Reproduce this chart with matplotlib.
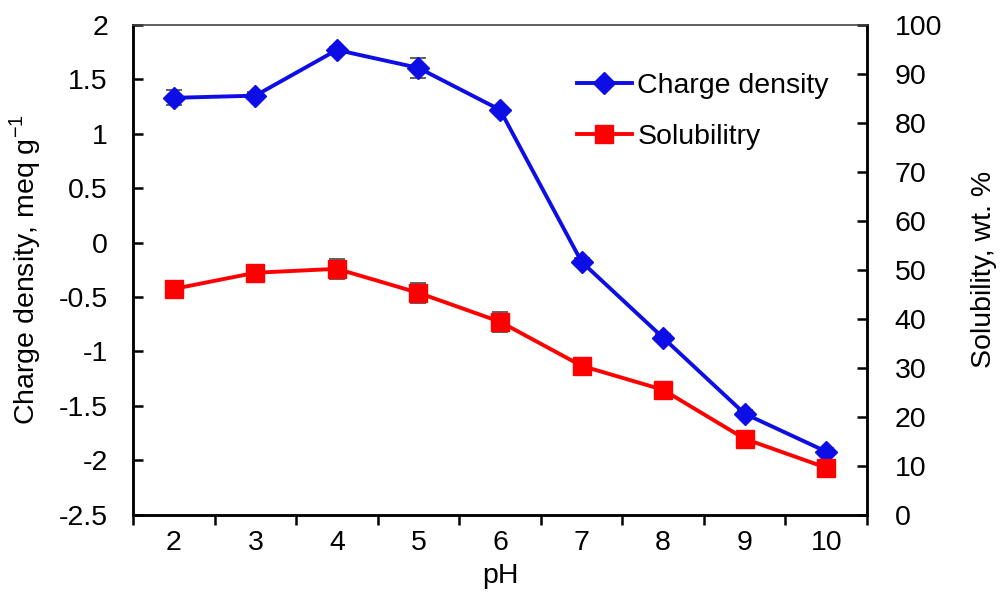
import matplotlib
matplotlib.use("Agg")
import matplotlib.pyplot as plt
import numpy as np

plt.rcParams['font.family'] = ['Liberation Sans', 'DejaVu Sans']
plt.rcParams['mathtext.fontset'] = 'custom'
plt.rcParams['mathtext.rm'] = 'Liberation Sans'

ph = [2, 3, 4, 5, 6, 7, 8, 9, 10]
charge = [1.33, 1.35, 1.77, 1.605, 1.22, -0.176, -0.874, -1.572, -1.92]
charge_err = [0.07, 0.03, 0.03, 0.09, 0.03, 0.03, 0.03, 0.03, 0.03]
solub = [46.1, 49.4, 50.2, 45.3, 39.4, 30.4, 25.5, 15.5, 9.6]
solub_err = [1.5, 1.5, 2.0, 2.0, 2.0, 1.3, 1.3, 1.3, 1.1]

fig = plt.figure(figsize=(10, 5.93), dpi=100)
ax = fig.add_axes([0.133, 0.132, 0.734, 0.826])
ax2 = ax.twinx()

x = np.arange(len(ph))
fs = 20.5

l1 = ax.errorbar(x, charge, yerr=charge_err, color='#0d0de6', lw=2.8, marker='D',
                 markersize=11.5, ecolor='#555555', elinewidth=1.3, capsize=6,
                 capthick=1.3, label='Charge density', zorder=3)
l2 = ax2.errorbar(x, solub, yerr=solub_err, color='#ff0000', lw=2.8, marker='s',
                  markersize=12.5, ecolor='#555555', elinewidth=1.3, capsize=6,
                  capthick=1.3, label='Solubilitry', zorder=3)

ax.set_xlim(-0.5, len(ph) - 0.5)
ax.set_ylim(-2.5, 2)
ax2.set_ylim(0, 100)

ax.set_yticks(np.arange(-2.5, 2.01, 0.5))
ax.set_yticklabels(['-2.5', '-2', '-1.5', '-1', '-0.5', '0', '0.5', '1', '1.5', '2'])
ax2.set_yticks(np.arange(0, 101, 10))

ax.set_xticks(x)
ax.set_xticklabels([str(p) for p in ph])
ax.set_xticks(np.arange(-0.5, len(ph) + 0.5, 1), minor=True)
ax.tick_params(axis='x', which='major', length=0, labelsize=fs, pad=11)
ax.tick_params(axis='x', which='minor', length=7, width=1.8, direction='out')
ax.tick_params(axis='y', which='major', length=7, width=1.8, direction='in', labelsize=fs, pad=18)
ax2.tick_params(axis='y', which='major', length=7, width=1.8, direction='in', labelsize=fs, pad=20)

for a in (ax, ax2):
    for s in a.spines.values():
        s.set_linewidth(1.8)
ax2.spines['top'].set_linewidth(1.2)
ax2.spines['top'].set_color('#444444')
ax.spines['top'].set_visible(False)

ax.set_xlabel('pH', fontsize=fs, labelpad=5)
ax.set_ylabel('Charge density, meq g$^{\\mathregular{-1}}$', fontsize=fs, labelpad=11)
ax2.set_ylabel('Solubility, wt. %', fontsize=fs, labelpad=21)

h1, lb1 = ax.get_legend_handles_labels()
h2, lb2 = ax2.get_legend_handles_labels()
leg = ax.legend([h1[0][0], h2[0][0]], lb1 + lb2, loc='upper left',
                bbox_to_anchor=(0.59, 0.925), frameon=False, fontsize=fs,
                handlelength=1.9, handletextpad=0.2, labelspacing=0.89,
                borderaxespad=0)

fig.savefig('out.png', dpi=100)
